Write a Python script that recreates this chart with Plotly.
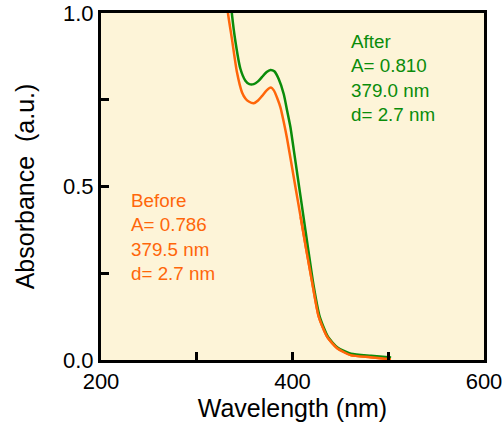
import plotly.graph_objects as go

# Data
wl_after = [335, 337, 340, 345.5, 350.8, 355, 359.5, 364, 368, 373, 377, 381, 385.7, 390.9,
            394.4, 397.9, 401.4, 405.5, 411, 416.3, 422, 428.5, 437, 447, 461, 482, 503]
abs_after = [1.05, 0.99, 0.925, 0.84, 0.805, 0.795, 0.795, 0.803, 0.815, 0.830, 0.836, 0.832,
             0.809, 0.766, 0.718, 0.670, 0.604, 0.526, 0.422, 0.321, 0.215, 0.124, 0.067,
             0.036, 0.018, 0.012, 0.007]

wl_before = [331, 332.6, 336.8, 342, 347.3, 351, 354.3, 359.5, 364, 368.2, 373, 377.5, 380.5,
             384, 387.4, 390.9, 394.4, 399.6, 403.1, 408.5, 414.2, 420.5, 427.5, 436.2, 446.7,
             460.7, 481.7, 502.6]
abs_before = [1.05, 1.0, 0.924, 0.829, 0.771, 0.753, 0.745, 0.740, 0.748, 0.761, 0.777,
              0.785, 0.777, 0.755, 0.728, 0.685, 0.637, 0.554, 0.498, 0.412, 0.321, 0.225,
              0.124, 0.067, 0.034, 0.014, 0.008, 0.002]

after_lines = ["After", "A= 0.810", "379.0 nm", "d= 2.7 nm"]
before_lines = ["Before", "A= 0.786", "379.5 nm", "d= 2.7 nm"]

x_ticks = [200, 400, 600]
y_ticks = [0.0, 0.5, 1.0]
y_tick_text = ["0.0", "0.5", "1.0"]

GREEN = "rgb(10,140,10)"
ORANGE = "rgb(255,102,10)"
FONT = "Liberation Sans, Arial, Helvetica, sans-serif"

fig = go.Figure()
fig.add_trace(go.Scatter(x=wl_before, y=abs_before, mode="lines",
                         line=dict(color=ORANGE, width=2.5, shape="spline", smoothing=0.6),
                         showlegend=False, hoverinfo="skip"))
fig.add_trace(go.Scatter(x=wl_after, y=abs_after, mode="lines",
                         line=dict(color=GREEN, width=2.5, shape="spline", smoothing=0.6),
                         showlegend=False, hoverinfo="skip"))
# orange overlays green in the tail
fig.add_trace(go.Scatter(x=wl_before[19:], y=abs_before[19:], mode="lines",
                         line=dict(color=ORANGE, width=2.5, shape="spline", smoothing=0.6),
                         showlegend=False, hoverinfo="skip"))

L, R, T, B = 101, 19, 13, 65
W, H = 503, 425
pw, ph = W - L - R, H - T - B


def px2paper(px, py):
    return (px - L) / pw, 1 - (py - T) / ph


ax, ay = px2paper(349, 29)
fig.add_annotation(x=ax, y=ay, xref="paper", yref="paper", text="<br>".join(after_lines),
                   showarrow=False, xanchor="left", yanchor="top", align="left",
                   font=dict(family=FONT, size=18.8, color=GREEN))
bx, by = px2paper(129, 188)
fig.add_annotation(x=bx, y=by, xref="paper", yref="paper", text="<br>".join(before_lines),
                   showarrow=False, xanchor="left", yanchor="top", align="left",
                   font=dict(family=FONT, size=18.8, color=ORANGE))

fig.update_layout(
    width=W, height=H,
    margin=dict(l=L, r=R, t=T, b=B),
    paper_bgcolor="white",
    plot_bgcolor="rgb(253,244,216)",
    font=dict(family=FONT, size=22, color="black"),
    xaxis=dict(range=[200, 600], tickvals=x_ticks, ticks="inside", ticklen=8, tickwidth=2.5,
               tickcolor="black", showline=True, linewidth=3, linecolor="black", mirror=True,
               showgrid=False, zeroline=False, automargin=False,
               minor=dict(tickvals=[300, 500], ticks="inside", ticklen=8, tickwidth=2.5,
                          tickcolor="black", showgrid=False),
               title=dict(text="Wavelength (nm)", font=dict(size=25), standoff=4),
               tickfont=dict(size=22)),
    yaxis=dict(range=[0, 1.0], tickvals=y_ticks, ticktext=y_tick_text, ticks="inside",
               ticklen=8, tickwidth=2.5, tickcolor="black", showline=True, linewidth=3,
               linecolor="black", mirror=True, showgrid=False, zeroline=False,
               automargin=False,
               minor=dict(tickvals=[0.25, 0.75], ticks="inside", ticklen=8, tickwidth=2.5,
                          tickcolor="black", showgrid=False),
               title=dict(text="Absorbance  (a.u.)", font=dict(size=25), standoff=22),
               tickfont=dict(size=22)),
)

fig.write_html("out.html")
